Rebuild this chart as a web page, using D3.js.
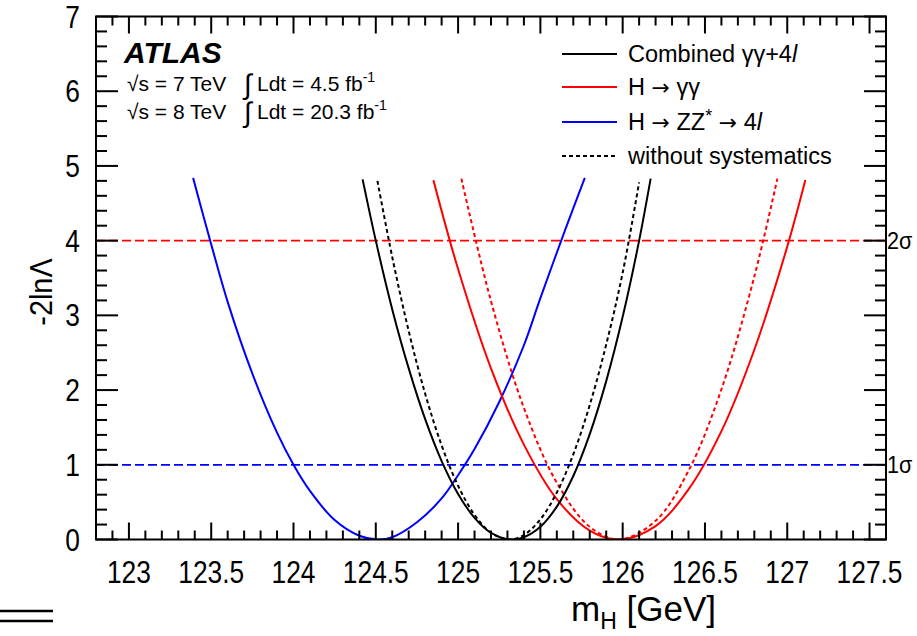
<!DOCTYPE html>
<html><head><meta charset="utf-8">
<script src="https://cdn.jsdelivr.net/npm/d3@7"></script>
<style>
body{margin:0;background:#fff}
svg{display:block}
text{font-family:"Liberation Sans",Arial,Helvetica,sans-serif;fill:#000}
</style>
</head><body>
<svg id="c" width="917" height="636"></svg>
<script>
// ---------- data ----------
const xTicks = [123,123.5,124,124.5,125,125.5,126,126.5,127,127.5];
const xTickLabels = ["123","123.5","124","124.5","125","125.5","126","126.5","127","127.5"];
const yTicks = [0,1,2,3,4,5,6,7];
const yTickLabels = ["0","1","2","3","4","5","6","7"];

// Combined γγ+4l (solid)
const combX = [124.42,124.5,124.6,124.7,124.8,124.9,125.0,125.1,125.2,125.32,125.4,125.5,125.6,125.7,125.8,125.9,126.0,126.1,126.17];
const combY = [4.82,4.00,3.08,2.29,1.61,1.05,0.61,0.29,0.09,0.0,0.03,0.17,0.44,0.85,1.41,2.12,2.98,4.00,4.83];
// Combined without systematics (dashed)
const combNsX = [124.51,124.6,124.7,124.8,124.9,125.0,125.1,125.2,125.31,125.4,125.5,125.6,125.7,125.8,125.9,126.0,126.1];
const combNsY = [4.80,3.78,2.79,1.95,1.26,0.72,0.33,0.09,0.0,0.06,0.27,0.63,1.14,1.80,2.61,3.57,4.78];
// H -> γγ (solid)
const ggX = [124.85,125.0,125.2,125.4,125.6,125.8,125.98,126.2,126.4,126.6,126.8,127.0,127.11];
const ggY = [4.81,3.62,2.29,1.27,0.54,0.12,0.0,0.18,0.67,1.45,2.54,3.92,4.81];
// H -> γγ without systematics (dashed)
const ggNsX = [125.02,125.2,125.4,125.6,125.8,125.98,126.2,126.4,126.6,126.8,126.94];
const ggNsY = [4.83,3.19,1.76,0.76,0.17,0.0,0.25,0.92,2.01,3.52,4.83];
// H -> ZZ* -> 4l (solid)
const zzX = [123.39,123.5,123.6,123.75,123.9,124.0,124.1,124.25,124.4,124.51,124.6,124.75,124.9,125.0,125.1,125.25,125.4,125.5,125.65,125.77];
const zzY = [4.84,3.95,3.18,2.22,1.43,1.0,0.65,0.26,0.05,0.0,0.03,0.23,0.55,0.86,1.21,1.84,2.60,3.23,4.14,4.84];

const sigmaLevels = [4,1];
const sigmaLabels = ["2σ","1σ"];
const sigmaColors = ["#ff0000","#0000ff"];

// ---------- layout ----------
const L=96, R=886, T=16.5, B=539.5;
const svg = d3.select("#c");
const x = d3.scaleLinear().domain([122.8,127.6]).range([L,R]);
const y = d3.scaleLinear().domain([0,7]).range([B,T]);

svg.append("defs").append("clipPath").attr("id","plotclip")
  .append("rect").attr("x",L).attr("y",T).attr("width",R-L).attr("height",B-T);

const plot = svg.append("g").attr("clip-path","url(#plotclip)");

// sigma lines
sigmaLevels.forEach((v,i)=>{
  plot.append("line").attr("x1",L).attr("x2",R).attr("y1",y(v)).attr("y2",y(v))
    .attr("stroke",sigmaColors[i]).attr("stroke-width",1.8).attr("stroke-dasharray","9,4");
  svg.append("text").attr("transform",`translate(${R+1},${y(v)+8}) scale(0.9,1)`)
    .attr("font-size",24).text(sigmaLabels[i]);
});

const line = d3.line().x(d=>x(d[0])).y(d=>y(d[1])).curve(d3.curveCatmullRom.alpha(0.5));
function series(xs,ys,color,dash){
  plot.append("path").datum(xs.map((v,i)=>[v,ys[i]]))
    .attr("d",line).attr("fill","none").attr("stroke",color)
    .attr("stroke-width",2).attr("stroke-dasharray",dash||null);
}
series(zzX,zzY,"#0000ff");
series(ggNsX,ggNsY,"#ff0000","4,3");
series(ggX,ggY,"#ff0000");
series(combNsX,combNsY,"#000","4,3");
series(combX,combY,"#000");

// frame
svg.append("rect").attr("x",L).attr("y",T).attr("width",R-L).attr("height",B-T)
  .attr("fill","none").attr("stroke","#000").attr("stroke-width",2);

// ticks
const ax = svg.append("g").attr("stroke","#000").attr("stroke-width",2);
const xMinor = d3.range(1228,1277).map(v=>v/10);
xMinor.forEach(v=>{
  const major = Math.abs(v*2-Math.round(v*2))<1e-6;
  const len = major?17:9;
  ax.append("line").attr("x1",x(v)).attr("x2",x(v)).attr("y1",B).attr("y2",B-len);
  ax.append("line").attr("x1",x(v)).attr("x2",x(v)).attr("y1",T).attr("y2",T+len);
});
const yMinor = d3.range(0,36).map(v=>v/5);
yMinor.forEach(v=>{
  const major = Math.abs(v-Math.round(v))<1e-6;
  const len = major?22:11;
  ax.append("line").attr("y1",y(v)).attr("y2",y(v)).attr("x1",L).attr("x2",L+len);
  ax.append("line").attr("y1",y(v)).attr("y2",y(v)).attr("x1",R).attr("x2",R-len);
});

// tick labels
xTicks.forEach((v,i)=>{
  svg.append("text").attr("transform",`translate(${x(v)},583) scale(0.85,1)`)
    .attr("text-anchor","middle").attr("font-size",31).text(xTickLabels[i]);
});
yTicks.forEach((v,i)=>{
  svg.append("text").attr("transform",`translate(80,${y(v)+11}) scale(0.85,1)`)
    .attr("text-anchor","end").attr("font-size",31).text(yTickLabels[i]);
});

// axis titles
const xt = svg.append("text").attr("transform","translate(571,621)").attr("font-size",35);
xt.append("tspan").text("m");
xt.append("tspan").attr("font-size",23).attr("dy",8).text("H");
xt.append("tspan").attr("dy",-8).text(" [GeV]");
svg.append("text").attr("transform","translate(52,292) rotate(-90) scale(0.9,1)")
  .attr("text-anchor","middle").attr("font-size",32).text("-2lnΛ");

// ATLAS label
svg.append("text").attr("x",124).attr("y",63).attr("font-size",30)
  .attr("font-weight","bold").attr("font-style","italic").text("ATLAS");
function lumi(yb, e, l){
  svg.append("text").attr("x",127).attr("y",yb).attr("font-size",21).text("√s = "+e+" TeV");
  svg.append("text").attr("x",244).attr("y",yb+3).attr("font-size",28).text("∫");
  const t3 = svg.append("text").attr("x",257).attr("y",yb).attr("font-size",21);
  t3.append("tspan").text("Ldt = "+l+" fb");
  t3.append("tspan").attr("font-size",14).attr("dy",-9).text("-1");
}
lumi(91,"7","4.5");
lumi(119,"8","20.3");

// legend
const ARROW = '"DejaVu Sans",sans-serif';
const legItems = [
  {c:"#000",d:null,parts:[["Combined γγ+4",0],["l",1]]},
  {c:"#ff0000",d:null,parts:[["H ",0],["→",4],[" γγ",0]]},
  {c:"#0000ff",d:null,parts:[["H ",0],["→",4],[" ZZ",0],["*",2],[" ",3],["→",4],[" 4",0],["l",1]]},
  {c:"#000",d:"4,3",parts:[["without systematics",0]]}
];
const legY=[54,87,122,156];
legItems.forEach((it,i)=>{
  svg.append("line").attr("x1",562).attr("x2",617).attr("y1",legY[i]).attr("y2",legY[i])
    .attr("stroke",it.c).attr("stroke-width",2).attr("stroke-dasharray",it.d);
  const t = svg.append("text").attr("x",628).attr("y",legY[i]+8).attr("font-size",23.5);
  it.parts.forEach(p=>{
    const s = t.append("tspan").text(p[0]);
    if(p[1]===1) s.attr("font-style","italic");
    if(p[1]===2) s.attr("font-size",18).attr("dy",-8);
    if(p[1]===3) s.attr("dy",8);
    if(p[1]===4) s.attr("font-family",ARROW).attr("font-size",22);
  });
});

// decorative double rule bottom-left
[611,621].forEach(v=>{
  svg.append("line").attr("x1",0).attr("x2",53).attr("y1",v).attr("y2",v)
    .attr("stroke","#000").attr("stroke-width",2.5);
});
</script>
</body></html>
